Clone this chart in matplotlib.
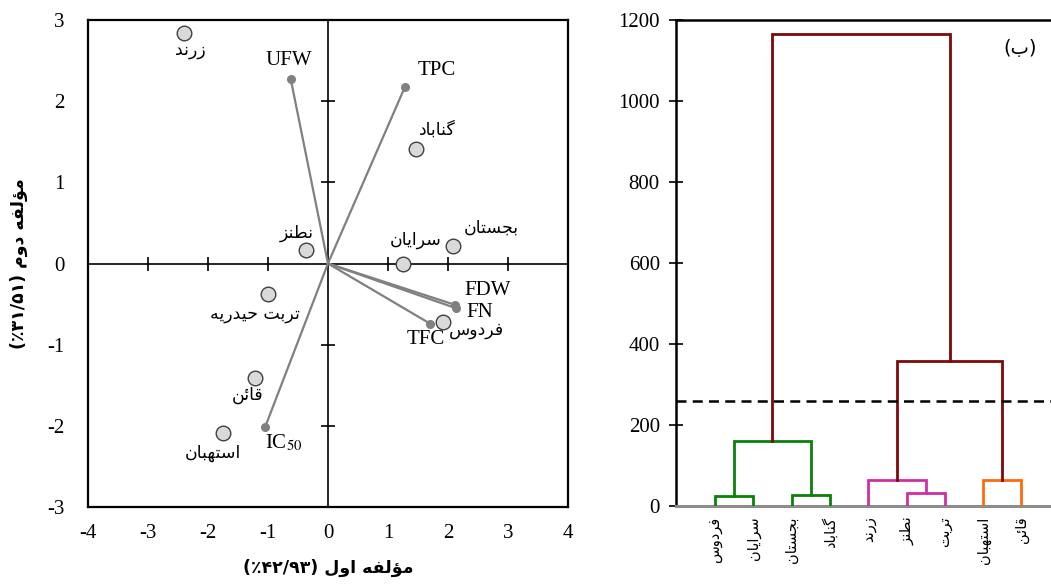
import matplotlib
matplotlib.use('Agg')
import matplotlib.pyplot as plt
import numpy as np

# --- Persian shaping (matplotlib has no text shaping) ---
FORMS = {
    'ا': ('\uFE8D', '\uFE8E', None, None),
    'ب': ('\uFE8F', '\uFE90', '\uFE91', '\uFE92'),
    'ت': ('\uFE95', '\uFE96', '\uFE97', '\uFE98'),
    'ج': ('\uFE9D', '\uFE9E', '\uFE9F', '\uFEA0'),
    'ح': ('\uFEA1', '\uFEA2', '\uFEA3', '\uFEA4'),
    'د': ('\uFEA9', '\uFEAA', None, None),
    'ر': ('\uFEAD', '\uFEAE', None, None),
    'ز': ('\uFEAF', '\uFEB0', None, None),
    'س': ('\uFEB1', '\uFEB2', '\uFEB3', '\uFEB4'),
    'ط': ('\uFEC1', '\uFEC2', '\uFEC3', '\uFEC4'),
    'ف': ('\uFED1', '\uFED2', '\uFED3', '\uFED4'),
    'ق': ('\uFED5', '\uFED6', '\uFED7', '\uFED8'),
    'ل': ('\uFEDD', '\uFEDE', '\uFEDF', '\uFEE0'),
    'م': ('\uFEE1', '\uFEE2', '\uFEE3', '\uFEE4'),
    'ن': ('\uFEE5', '\uFEE6', '\uFEE7', '\uFEE8'),
    'ه': ('\uFEE9', '\uFEEA', '\uFEEB', '\uFEEC'),
    'و': ('\uFEED', '\uFEEE', None, None),
    'ؤ': ('\uFE85', '\uFE86', None, None),
    'ئ': ('\uFE89', '\uFE8A', '\uFE8B', '\uFE8C'),
    'ی': ('\uFBFC', '\uFBFD', '\uFBFE', '\uFBFF'),
    'گ': ('\uFB92', '\uFB93', '\uFB94', '\uFB95'),
}


def fa(s):
    out = []
    for i, c in enumerate(s):
        if c not in FORMS:
            out.append(c)
            continue
        prev = s[i - 1] if i > 0 else None
        nxt = s[i + 1] if i + 1 < len(s) else None
        jp = prev in FORMS and FORMS[prev][2] is not None
        jn = FORMS[c][2] is not None and nxt in FORMS
        iso, fin, ini, med = FORMS[c]
        if jp and jn:
            out.append(med)
        elif jp:
            out.append(fin)
        elif jn:
            out.append(ini)
        else:
            out.append(iso)
    return ''.join(out)[::-1]


# --- data: PCA biplot ---
sites = ['زرند', 'نطنز', 'تربت حیدریه', 'قائن', 'استهبان',
         'گناباد', 'بجستان', 'سرایان', 'فردوس']
pc1 = [-2.40, -0.37, -1.00, -1.22, -1.75, 1.47, 2.08, 1.25, 1.92]
pc2 = [2.84, 0.17, -0.38, -1.41, -2.09, 1.41, 0.22, -0.01, -0.72]

traits = ['UFW', 'TPC', 'FDW', 'FN', 'TFC', r'IC$_{50}$']
load1 = [-0.62, 1.28, 2.12, 2.13, 1.70, -1.05]
load2 = [2.27, 2.17, -0.51, -0.55, -0.74, -2.02]

# label offsets in pixels
site_off = [(6, -17), (-9, 17), (-13, -20), (-7, -17), (-10, -20),
            (21, 19), (39, 18), (13, 24), (33, -8)]
trait_off = [(-2, 19), (32, 17), (32, 14), (24, -4), (-4, -16), (19, -15)]

# --- data: dendrogram ---
leaves = ['فردوس', 'سرایان', 'بجستان', 'گناباد', 'زرند', 'نطنز', 'تربت', 'استهبان', 'قائن']
merges = [(0, 1), (2, 3), (5, 6), (4, 11), (7, 8), (9, 10), (12, 13), (14, 15)]
heights = [23, 26, 32, 63, 63, 160, 358, 1166]
cut = 258
merge_colors = ['#0b800b', '#0b800b', '#d02fa2', '#d02fa2', '#ff6a0d',
                '#0b800b', '#7c0a0a', '#7c0a0a']

serif = 'Liberation Serif'
plt.rcParams['font.family'] = [serif, 'DejaVu Sans']
plt.rcParams['mathtext.fontset'] = 'stix'

fig = plt.figure(figsize=(10.51, 5.84), dpi=100)

# ---------- left: biplot ----------
ax = fig.add_axes([0.0837, 0.1318, 0.4567, 0.834])
ax.set_xlim(-4, 4)
ax.set_ylim(-3, 3)
for s in ax.spines.values():
    s.set_linewidth(1.6)
ax.axhline(0, color='black', lw=1.2, zorder=1)
ax.axvline(0, color='black', lw=1.2, zorder=1)
xt = [-3, -2, -1, 1, 2, 3]
yt = [-2, -1, 1, 2]
ax.plot(xt, np.zeros(len(xt)), ls='none', marker='|', ms=9.4, mew=1.2, color='black', zorder=1)
ax.plot(np.zeros(len(yt)), yt, ls='none', marker='_', ms=9.4, mew=1.2, color='black', zorder=1)

ax.set_xticks(range(-4, 5))
ax.set_yticks(range(-3, 4))
ax.tick_params(axis='x', length=0, labelsize=15, pad=12)
ax.tick_params(axis='y', length=0, labelsize=15, pad=17)
ax.set_xticklabels([str(v) for v in range(-4, 5)], family=serif)
ax.set_yticklabels([str(v) for v in range(-3, 4)], family=serif)

for x, y, lab, off in zip(load1, load2, traits, trait_off):
    ax.plot([0, x], [0, y], color='#808080', lw=1.6, zorder=2)
    ax.plot(x, y, 'o', color='#808080', ms=5.5, zorder=3)
    ax.annotate(lab, (x, y), xytext=off, textcoords='offset pixels',
                ha='center', va='center', fontsize=15, family=serif)

ax.plot(pc1, pc2, 'o', ls='none', ms=10.5, mfc='#d9d9d9', mec='#404040', mew=1.0, zorder=4)
for x, y, lab, off in zip(pc1, pc2, sites, site_off):
    ax.annotate(fa(lab), (x, y), xytext=off, textcoords='offset pixels',
                ha='center', va='center', fontsize=12.5, family='DejaVu Sans')

ax.set_xlabel('(٪۴۲/۹۳) ' + fa('مؤلفه اول'), family='DejaVu Sans',
              fontweight='bold', fontsize=12.5, labelpad=12)
ax.set_ylabel('(٪۳۱/۵۱) ' + fa('مؤلفه دوم'), family='DejaVu Sans',
              fontweight='bold', fontsize=12.5, labelpad=14)

# ---------- right: dendrogram ----------
ax2 = fig.add_axes([0.6432, 0.1344, 0.3568, 0.8313])
n = len(leaves)
xs = list(range(n))
hs = [0.0] * n
for (a, b), h, col in zip(merges, heights, merge_colors):
    ax2.plot([xs[a], xs[a], xs[b], xs[b]], [hs[a], h, h, hs[b]], color=col, lw=2.0,
             solid_joinstyle='miter', zorder=3)
    xs.append((xs[a] + xs[b]) / 2)
    hs.append(h)

ax2.axhline(cut, color='black', lw=1.8, ls=(0, (4, 2.5)), zorder=4)
ax2.set_xlim(-1.018, 8.77)
ax2.set_ylim(0, 1200)
ax2.spines['right'].set_visible(False)
ax2.spines['top'].set_linewidth(1.8)
ax2.spines['left'].set_linewidth(1.8)
ax2.spines['bottom'].set_color('#8c8c8c')
ax2.spines['bottom'].set_linewidth(2.2)
ax2.set_yticks(range(0, 1201, 200))
ax2.set_yticklabels([str(v) for v in range(0, 1201, 200)], family=serif)
ax2.tick_params(axis='y', direction='inout', length=9.4, width=1.2, labelsize=15, pad=7)
ax2.set_xticks(range(n))
ax2.set_xticklabels([fa(l) for l in leaves], rotation=90, family='DejaVu Sans', fontsize=10.5)
ax2.tick_params(axis='x', length=0, pad=8)
ax2.text(0.917, 0.942, '(' + fa('ب') + ')', transform=ax2.transAxes,
         ha='center', va='center', fontsize=14, family='DejaVu Sans')

fig.savefig('out.png', dpi=100)
